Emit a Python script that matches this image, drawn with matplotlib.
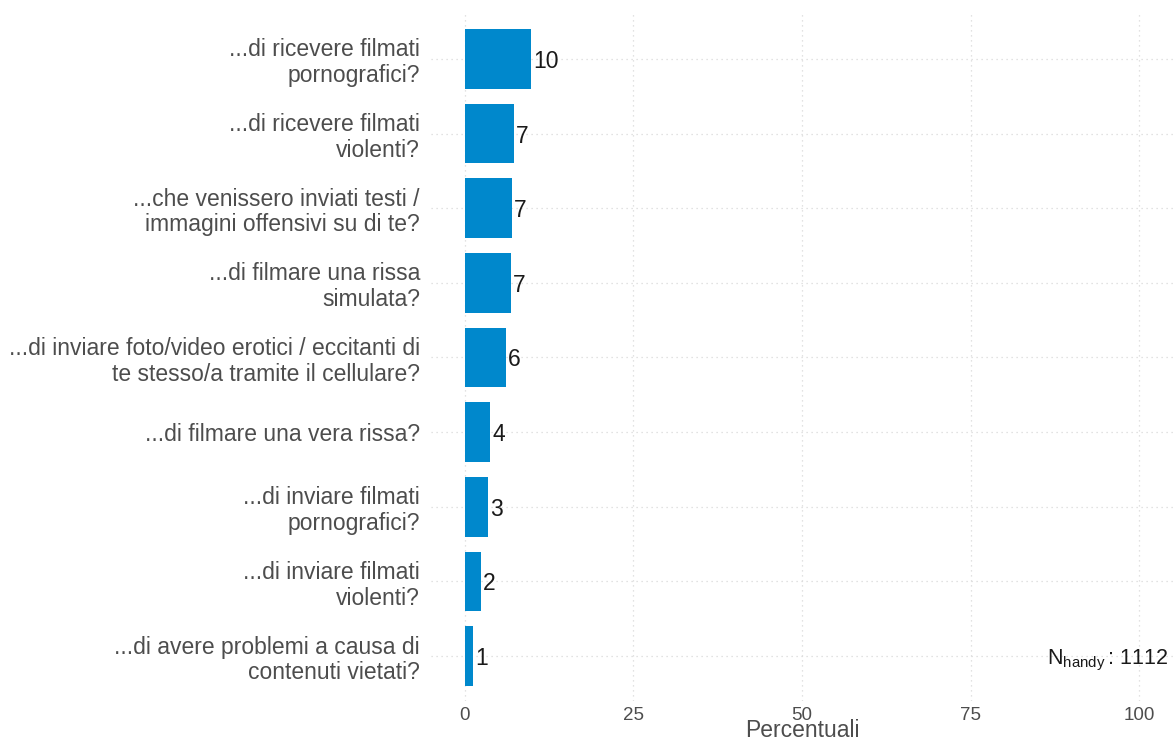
import matplotlib
matplotlib.use("Agg")
import matplotlib.pyplot as plt

plt.rcParams["font.family"] = ["Liberation Sans", "DejaVu Sans"]
plt.rcParams["mathtext.fontset"] = "custom"
plt.rcParams["mathtext.rm"] = "Liberation Sans"
plt.rcParams["mathtext.it"] = "Liberation Sans:italic"

# Survey items, top to bottom
categories = [
    "...di ricevere filmati\npornografici?",
    "...di ricevere filmati\nviolenti?",
    "...che venissero inviati testi /\nimmagini offensivi su di te?",
    "...di filmare una rissa\nsimulata?",
    "...di inviare foto/video erotici / eccitanti di\nte stesso/a tramite il cellulare?",
    "...di filmare una vera rissa?",
    "...di inviare filmati\npornografici?",
    "...di inviare filmati\nviolenti?",
    "...di avere problemi a causa di\ncontenuti vietati?",
]
# Share of respondents (percent)
values = [9.8, 7.25, 6.95, 6.8, 6.1, 3.8, 3.4, 2.4, 1.2]
x_ticks = [0, 25, 50, 75, 100]
n_total = 1112

bar_color = "#0088cc"
grid_color = "#d9d9d9"

fig = plt.figure(figsize=(11.73, 7.42), dpi=100)
ax = fig.add_axes([431 / 1173, 41.2 / 742, 742 / 1173, 686.6 / 742])

n = len(categories)
ypos = list(range(n - 1, -1, -1))  # first category on top

ax.barh(ypos, values, height=0.8, color=bar_color, zorder=2)
for y, v in zip(ypos, values):
    ax.text(v + 0.3, y, f"{v:.0f}", ha="left", va="center_baseline",
            fontsize=16.5, color="#1a1a1a", zorder=3)

ax.set_xlim(-5, 105)
ax.set_ylim(-0.6, n - 1 + 0.6)
ax.set_xticks(x_ticks)
ax.set_xticklabels([str(t) for t in x_ticks], fontsize=13.5, color="#4d4d4d")
ax.set_yticks(ypos)
ax.set_yticklabels(categories, fontsize=16.5, color="#4d4d4d", linespacing=1.15)
ax.tick_params(axis="both", length=0)
ax.tick_params(axis="y", pad=8)
ax.tick_params(axis="x", pad=4.5)

ax.grid(True, color=grid_color, linestyle=(0, (1, 3)), linewidth=0.9, zorder=0)
for s in ax.spines.values():
    s.set_visible(False)

ax.set_xlabel("Percentuali", fontsize=16.5, color="#4d4d4d", labelpad=-3.5)

ax.text(104.3, 0, r"N$_{\mathrm{handy}}\,$" + f": {n_total}", ha="right",
        va="center_baseline", fontsize=15.5, color="#1a1a1a", zorder=3)

fig.savefig("out.png", dpi=100)
